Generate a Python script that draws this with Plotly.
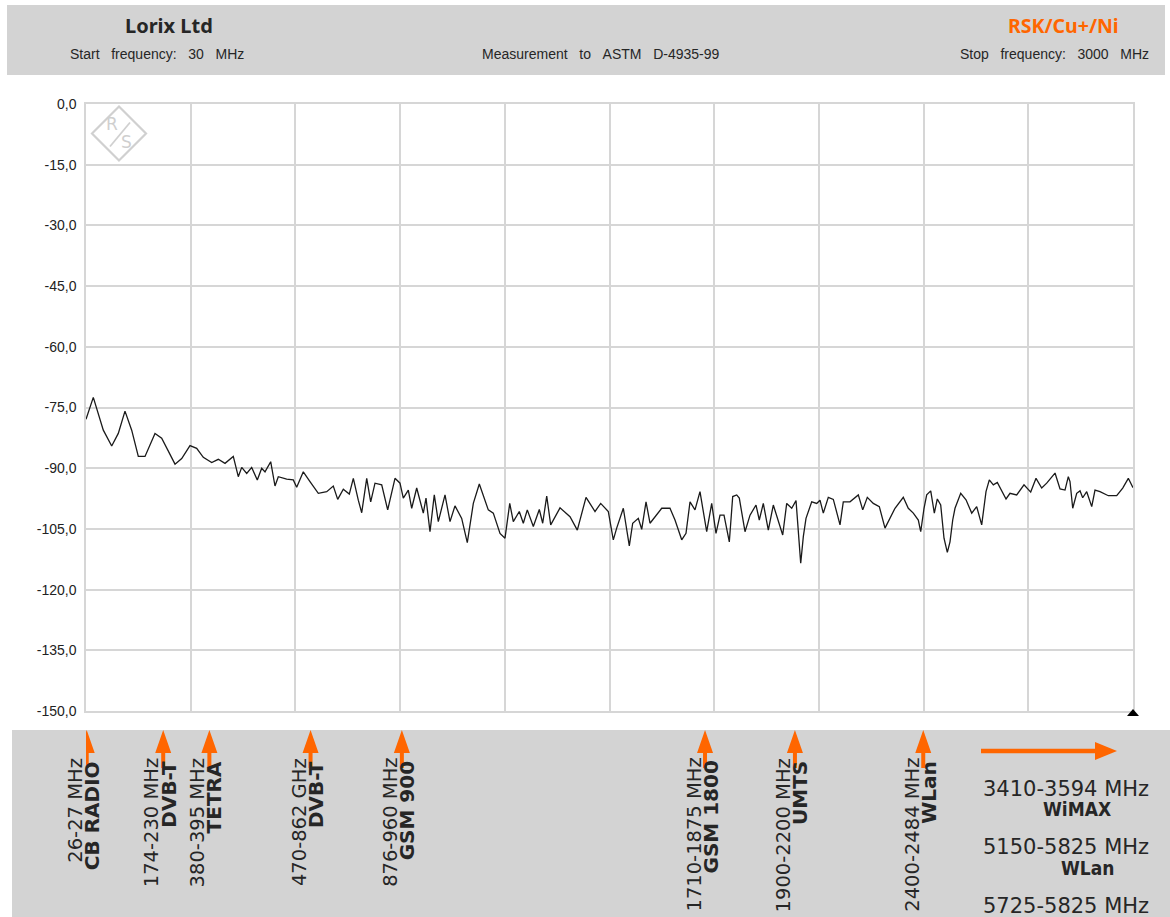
import plotly.graph_objects as go

# ---------------- data ----------------
freq_mhz = [30, 50.7, 79.1, 102.9, 121.6, 140.6, 159.6, 178.4, 197.4, 225.7, 244.7, 282.5, 301.5, 325.0,
            344.0, 362.7, 386.6, 405.3, 424.3, 447.8, 462.0, 471.7, 485.9, 500.0, 515.9, 528.4, 537.8,
            553.9, 566.1, 575.5, 599.3, 618.0, 627.7, 646.4, 665.4, 689.0, 712.8, 731.5, 744.0, 759.9,
            776.9, 788.3, 802.4, 812.1, 826.3, 837.6, 849.8, 868.8, 885.8, 906.5, 920.7, 930.1, 944.3,
            953.9, 968.1, 986.8, 994.5, 1005.8, 1018.0, 1029.4, 1048.4, 1062.6, 1076.7, 1095.7, 1111.6,
            1128.7, 1145.7, 1171.2, 1185.4, 1204.4, 1218.6, 1232.0, 1242.1, 1259.1, 1270.5, 1281.8,
            1298.9, 1315.9, 1325.5, 1336.9, 1348.2, 1374.6, 1403.0, 1423.7, 1448.4, 1473.9, 1490.0,
            1511.6, 1525.8, 1535.4, 1554.2, 1571.2, 1580.8, 1596.7, 1606.4, 1618.6, 1629.9, 1663.1,
            1686.6, 1700.8, 1719.8, 1732.0, 1743.4, 1757.5, 1771.7, 1790.7, 1804.9, 1817.1, 1828.5,
            1839.8, 1854.9, 1864.5, 1875.8, 1883.2, 1899.4, 1913.6, 1930.6, 1939.9, 1951.3, 1965.5,
            1979.7, 1992.1, 2006.3, 2017.7, 2031.9, 2044.1, 2050.6, 2057.4, 2064.8, 2072.4, 2088.6,
            2102.8, 2112.1, 2121.5, 2135.7, 2149.9, 2168.9, 2178.2, 2197.2, 2220.8, 2233.3, 2246.3,
            2263.3, 2280.4, 2296.5, 2324.9, 2348.4, 2362.6, 2376.8, 2391.0, 2397.8, 2407.2, 2414.8,
            2426.2, 2436.4, 2444.9, 2454.5, 2463.9, 2473.3, 2480.9, 2488.6, 2495.1, 2511.3, 2526.3,
            2542.5, 2556.6, 2570.8, 2583.0, 2592.4, 2603.8, 2615.1, 2639.8, 2651.1, 2670.1, 2690.8,
            2709.8, 2724.9, 2741.0, 2755.2, 2778.8, 2793.0, 2807.1, 2816.5, 2821.3, 2829.0, 2840.3,
            2849.7, 2857.3, 2868.7, 2882.9, 2892.2, 2906.4, 2930.0, 2953.8, 2970.8, 2986.7, 3000]

level_db = [-77.9, -72.5, -80.6, -84.5, -81.4, -75.9, -80.6, -87.1, -87.1, -81.4, -82.6, -89.0, -87.6, -84.4,
            -85.1, -87.3, -88.6, -87.8, -88.8, -87.1, -92.1, -89.8, -91.3, -89.8, -92.9, -90.0, -90.9,
            -88.4, -94.4, -92.1, -92.7, -92.9, -94.7, -90.9, -93.3, -96.2, -95.8, -94.4, -97.7, -95.2,
            -96.4, -92.5, -97.9, -101.0, -92.5, -98.3, -93.7, -94.1, -100.3, -92.5, -93.7, -97.4, -95.4,
            -99.9, -94.9, -101.1, -97.4, -105.7, -96.6, -103.2, -96.6, -103.2, -99.3, -102.4, -108.4,
            -98.7, -93.9, -100.3, -101.1, -106.1, -107.3, -98.7, -103.2, -100.7, -103.6, -100.3,
            -104.4, -100.2, -103.6, -96.9, -104.0, -99.8, -102.0, -105.3, -97.2, -100.7, -98.7,
            -100.7, -107.7, -104.8, -99.9, -109.2, -103.6, -102.4, -105.1, -98.3, -103.6, -99.9,
            -99.9, -102.8, -107.7, -106.1, -98.3, -100.3, -95.8, -105.7, -98.7, -106.1, -101.6,
            -101.6, -108.2, -97.0, -96.6, -97.4, -105.7, -101.6, -99.1, -102.8, -98.7, -105.3,
            -99.1, -102.4, -106.5, -98.7, -99.9, -98.0, -106.9, -113.5, -106.9, -102.4, -98.3,
            -98.7, -97.9, -101.1, -97.2, -97.7, -104.0, -98.3, -98.3, -96.6, -100.3, -97.2,
            -98.7, -99.5, -104.8, -99.9, -97.2, -99.9, -101.1, -102.8, -105.7, -99.9, -96.6,
            -95.6, -101.1, -97.6, -99.1, -107.3, -110.8, -108.2, -102.8, -99.9, -96.2, -97.8,
            -101.1, -99.5, -104.0, -95.8, -92.9, -94.1, -93.5, -97.6, -96.2, -96.6, -94.1,
            -95.9, -92.5, -94.9, -93.7, -91.2, -95.1, -95.4, -92.1, -93.3, -99.9, -96.2,
            -95.6, -97.3, -95.8, -99.5, -95.4, -95.8, -96.8, -96.8, -94.9, -92.5, -94.8]

y_tick_vals = [0, -15, -30, -45, -60, -75, -90, -105, -120, -135, -150]
y_tick_text = ["0,0", "-15,0", "-30,0", "-45,0", "-60,0", "-75,0", "-90,0",
               "-105,0", "-120,0", "-135,0", "-150,0"]

band_pos_mhz = [32, 249, 380, 667, 926, 1786, 2041, 2405]
band_ranges = ["26-27 MHz", "174-230 MHz", "380-395 MHz", "470-862 GHz", "876-960 MHz",
               "1710-1875 MHz", "1900-2200 MHz", "2400-2484 MHz"]
band_names = ["CB RADIO", "DVB-T", "TETRA", "DVB-T", "GSM 900", "GSM 1800", "UMTS", "WLan"]

extra_ranges = ["3410-3594 MHz", "5150-5825 MHz", "5725-5825 MHz"]
extra_names = ["WiMAX", "WLan", ""]

# ---------------- layout helpers ----------------
FW, FH = 1170, 917
L, R, T, B = 86, 37, 104, 206
PW, PH = FW - L - R, FH - T - B


def px(x):
    return (x - L) / PW


def py(y):
    return (FH - B - y) / PH


ORANGE = "#ff6600"
GRID = "#d6d6d6"
BAND = "#d3d3d3"
TXT = "#262626"
NB = "\u00a0"

fig = go.Figure()
fig.add_trace(go.Scatter(x=freq_mhz, y=level_db, mode="lines",
                         line=dict(color="#1a1a1a", width=1.3), hoverinfo="skip",
                         showlegend=False))

shapes = []
# header band
shapes.append(dict(type="rect", xref="paper", yref="paper", x0=px(7), x1=px(1165),
                   y0=py(5), y1=py(75), fillcolor=BAND, line=dict(width=0), layer="below"))
# bottom band
shapes.append(dict(type="rect", xref="paper", yref="paper", x0=px(12), x1=px(1175),
                   y0=py(730), y1=py(925), fillcolor=BAND, line=dict(width=0), layer="below"))

# band arrows (up)
for f in band_pos_mhz:
    shapes.append(dict(type="path", xref="x", xsizemode="pixel", xanchor=f,
                       yref="paper", ysizemode="pixel", yanchor=py(730),
                       path="M0,0 L8,-23 L2,-23 L2,-38 L-2,-38 L-2,-23 L-8,-23 Z",
                       fillcolor=ORANGE, line=dict(width=0)))

# horizontal arrow to the right
shapes.append(dict(type="path", xref="paper", xsizemode="pixel", xanchor=px(1117),
                   yref="paper", ysizemode="pixel", yanchor=py(751),
                   path="M0,0 L-22,9 L-22,2.2 L-136,2.2 L-136,-2.2 L-22,-2.2 L-22,-9 Z",
                   fillcolor=ORANGE, line=dict(width=0)))

# small black marker at bottom right
shapes.append(dict(type="path", xref="paper", xsizemode="pixel", xanchor=1,
                   yref="paper", ysizemode="pixel", yanchor=0,
                   path="M0,2 L6,-5 L-6,-5 Z", fillcolor="#000000", line=dict(width=0)))

# R&S watermark logo
shapes.append(dict(type="path", xref="paper", xsizemode="pixel", xanchor=px(119),
                   yref="paper", ysizemode="pixel", yanchor=py(133.5),
                   path="M-27,0 L0,27 L27,0 L0,-27 Z", line=dict(color="#d0d0d0", width=2.2)))
shapes.append(dict(type="path", xref="paper", xsizemode="pixel", xanchor=px(119),
                   yref="paper", ysizemode="pixel", yanchor=py(133.5),
                   path="M-9,-13 L11,11", line=dict(color="#d0d0d0", width=1.8)))

annotations = []


def txt(x, y, text, size, color=TXT, family="Liberation Sans", xa="center", ya="middle", **kw):
    annotations.append(dict(xref="paper", yref="paper", x=px(x), y=py(y), text=text,
                            showarrow=False, xanchor=xa, yanchor=ya,
                            font=dict(family=family, size=size, color=color), **kw))


def spaced(words):
    return (NB * 3).join(words)


# header texts
txt(169, 26, "<b>Lorix Ltd</b>", 20, family="Noto Sans")
txt(1063, 26, "<b>RSK/Cu+/Ni</b>", 19.5, color=ORANGE, family="Noto Sans")
txt(157, 54, spaced(["Start", "frequency:", "30", "MHz"]), 14)
txt(601, 54, spaced(["Measurement", "to", "ASTM", "D-4935-99"]), 14)
txt(1054, 54, spaced(["Stop", "frequency:", "3000", "MHz"]), 14)

# logo letters
txt(112, 124, "R", 17, color="#cfcfcf", family="DejaVu Sans")
txt(126, 142, "S", 17, color="#cfcfcf", family="DejaVu Sans")

# rotated band labels
for f, rng, name in zip(band_pos_mhz, band_ranges, band_names):
    annotations.append(dict(xref="x", yref="paper", x=f, y=py(756), text=rng,
                            textangle=-90, showarrow=False, xanchor="center", yanchor="top",
                            xshift=-11.5, font=dict(family="DejaVu Sans", size=19.5, color=TXT)))
    annotations.append(dict(xref="x", yref="paper", x=f, y=py(759), text="<b>" + name + "</b>",
                            textangle=-90, showarrow=False, xanchor="center", yanchor="top",
                            xshift=5, font=dict(family="DejaVu Sans", size=20, color=TXT)))

# right side band texts
COND = "DejaVu Sans Condensed, DejaVu Sans"
range_y = [789, 847, 906]
name_pos = [(1077, 809), (1087, 868)]
for i, rng in enumerate(extra_ranges):
    txt(1066, range_y[i], rng, 21, family="DejaVu Sans")
for i, name in enumerate(extra_names):
    if name:
        txt(name_pos[i][0], name_pos[i][1], "<b>" + name + "</b>", 19, family=COND)

fig.update_layout(
    width=FW, height=FH,
    margin=dict(l=L, r=R, t=T, b=B),
    paper_bgcolor="white", plot_bgcolor="white",
    shapes=shapes, annotations=annotations,
    showlegend=False,
    xaxis=dict(range=[30, 3000], tick0=30, dtick=297, showticklabels=False, ticks="",
               showgrid=True, gridcolor=GRID, gridwidth=1.5, zeroline=False,
               showline=True, mirror=True, linecolor=GRID, linewidth=1.5),
    yaxis=dict(range=[-150, 0], tickvals=y_tick_vals, ticktext=y_tick_text, ticks="",
               showgrid=True, gridcolor=GRID, gridwidth=1.5, zeroline=False,
               showline=True, mirror=True, linecolor=GRID, linewidth=1.5,
               ticklabelstandoff=5,
               tickfont=dict(family="Liberation Sans", size=14, color="#222222")),
)

fig.write_html("out.html", config={"displayModeBar": False},
               post_script="document.body.style.margin='0';document.body.style.overflow='hidden';")
